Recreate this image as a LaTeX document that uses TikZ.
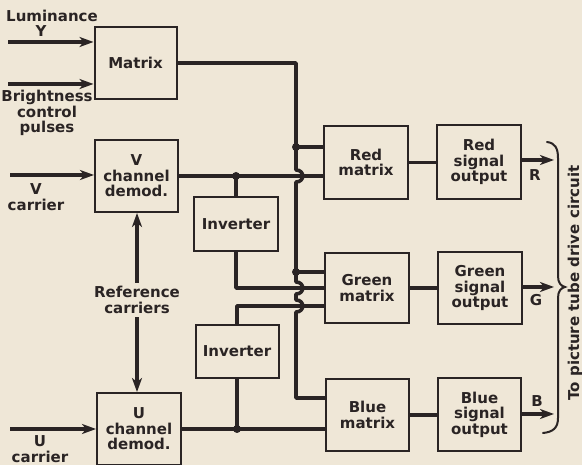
\documentclass[tikz,border=0pt]{standalone}
\usepackage{fontspec}
\setmainfont{DejaVu Sans}
\usetikzlibrary{arrows.meta,calc}
\definecolor{bgc}{HTML}{EFE7D7}
\definecolor{inkc}{HTML}{2A2424}
\begin{document}
\begin{tikzpicture}[x=1pt,y=-1pt,
  every node/.style={font=\fontsize{15}{15.5}\selectfont\bfseries, text=inkc, align=center},
  box/.style={draw=inkc,line width=2pt,fill=bgc,inner sep=0pt},
  sig/.style={draw=inkc,line width=3.6pt,line join=round},
  arr/.style={sig,-{Stealth[length=14pt,width=10pt,inset=4pt]}},
  jdot/.style={fill=inkc}]
\path[use as bounding box, fill=bgc] (0,0) rectangle (582,465);

% boxes
\node[box,minimum width=82pt,minimum height=72pt] (mat) at (135.5,63) {Matrix};
\node[box,minimum width=83pt,minimum height=72pt] (vdem) at (136.5,176) {V\\channel\\demod.};
\node[box,minimum width=84pt,minimum height=72pt] (udem) at (139,429) {U\\channel\\demod.};
\node[box,minimum width=84pt,minimum height=54pt] (inv1) at (236,224) {Inverter};
\node[box,minimum width=83pt,minimum height=53pt] (inv2) at (237,351.5) {Inverter};
\node[box,minimum width=84pt,minimum height=73pt] (redm) at (366,162.5) {Red\\matrix};
\node[box,minimum width=84pt,minimum height=74pt] (redo) at (479,162) {Red\\signal\\output};
\node[box,minimum width=84pt,minimum height=70pt] (grnm) at (367,288) {Green\\matrix};
\node[box,minimum width=84pt,minimum height=72pt] (grno) at (480,288) {Green\\signal\\output};
\node[box,minimum width=83pt,minimum height=72pt] (blum) at (367.5,415) {Blue\\matrix};
\node[box,minimum width=83pt,minimum height=73pt] (bluo) at (479.5,414.5) {Blue\\signal\\output};

% input labels
\node (lum) at (52,16) {Luminance};
\node (lumy) at (41,31) {Y};
\node (bri) at (47,113) {Brightness\\control\\pulses};
\node (vcar) at (36,197) {V\\carrier};
\node[inner sep=0pt] (ucar) at (40,449) {U\\carrier};
\node (ref) at (137,300) {Reference\\carriers};

% input arrows
\coordinate (inY) at (8,42);
\coordinate (inB) at (8,84);
\coordinate (inV) at (10,175);
\coordinate (inU) at (10,429);
\draw[arr] (inY) -- (inY -| mat.west);
\draw[arr] (inB) -- (inB -| mat.west);
\draw[arr] (inV) -- (inV -| vdem.west);
\draw[arr] (inU) -- (inU -| udem.west);
\draw[arr] (ref.north) -- (ref.north |- vdem.south);
\draw[arr] (ref.south) -- (ref.south |- udem.north);

% luminance bus
\coordinate (jR) at (296,147);
\coordinate (jG) at (296,272);
\coordinate (bB) at (296,398);
\draw[sig] (mat.east) -- (mat.east -| jR) -- (296,170)
  .. controls (305,170) and (305,182) .. (296,182) -- (296,282)
  .. controls (305,282) and (305,294) .. (296,294) -- (296,300)
  .. controls (305,300) and (305,312) .. (296,312) -- (bB) -- (bB -| blum.west);
\draw[sig] (jR) -- (jR -| redm.west);
\draw[sig] (jG) -- (jG -| grnm.west);
\fill[jdot] (jR) circle (4pt);
\fill[jdot] (jG) circle (4pt);

% V signal
\coordinate (jV) at (236,176);
\draw[sig] (vdem.east) -- (vdem.east -| redm.west);
\draw[sig] (jV) -- (jV |- inv1.north);
\fill[jdot] (jV) circle (4pt);
\coordinate (g2) at (236,288);
\draw[sig] (inv1.south) -- (g2) -- (g2 -| grnm.west);
\coordinate (g3) at (237,306);
\draw[sig] (inv2.north) -- (g3) -- (g3 -| grnm.west);

% U signal
\coordinate (jU) at (237,429);
\draw[sig] (udem.east) -- (udem.east -| blum.west);
\draw[sig] (inv2.south) -- (jU);
\fill[jdot] (jU) circle (4pt);

% matrix to output
\draw[sig] (redm.east) -- (redm.east -| redo.west);
\draw[sig] (grnm.east) -- (grnm.east -| grno.west);
\draw[sig] (blum.east) -- (blum.east -| bluo.west);

% outputs
\coordinate (oR) at (554,160);
\coordinate (oG) at (554,287);
\coordinate (oB) at (554,414);
\draw[arr] (oR -| redo.east) -- (oR);
\draw[arr] (oG -| grno.east) -- (oG);
\draw[arr] (oB -| bluo.east) -- (oB);
\node (rl) at (535,175) {R};
\node (gl) at (536,300) {G};
\node (bl) at (537,401) {B};

% brace
\draw[draw=inkc,line width=2pt,line cap=round] (547,142)
  .. controls (555,143) and (558,148) .. (558,158) -- (558,276)
  .. controls (558,283) and (561,286) .. (565,287)
  .. controls (561,288) and (558,291) .. (558,298) -- (558,418)
  .. controls (558,428) and (553,432) .. (543,433);
\node[rotate=90,inner sep=0pt] (tube) at (575,283) {To picture tube drive circuit};
\end{tikzpicture}
\end{document}
